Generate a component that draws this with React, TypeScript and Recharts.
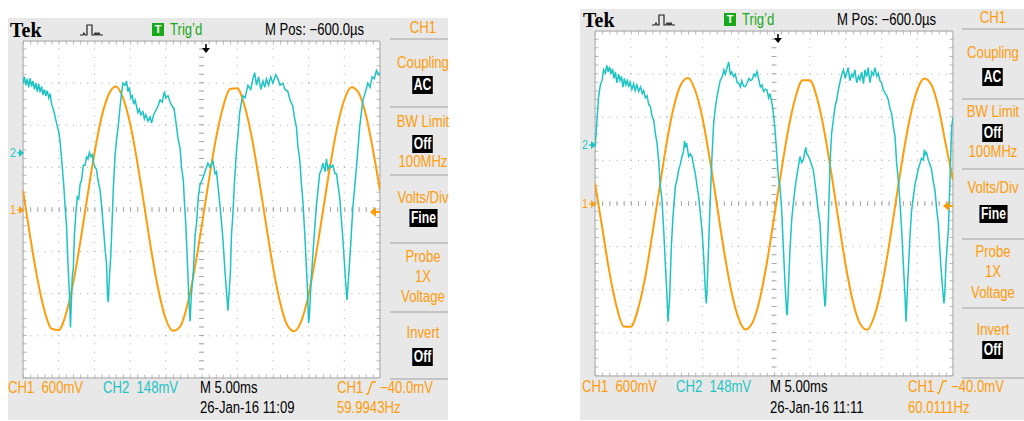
import React from "react";
import { LineChart, Line, XAxis, YAxis, ReferenceLine } from "recharts";

const ORANGE = "#ff9c0a";
const CYAN = "#1ec4c4";
const GREEN = "#17a917";
const FRAME = "#e8e8e8";
const GRID = "#a8a8a8";
const BORDER = "#b8b8b8";
const FONT = "'Liberation Sans', Arial, sans-serif";
const NARROW = 0.82;

// time in ms (5 ms/div, 10 div), amplitude in divisions
const gridTimes = [5, 10, 15, 20, 30, 35, 40, 45];
const gridDivs = [-3, -2, -1, 1, 2, 3];
const ch2Offset = 1.35; // CH2 ground marker, divisions above centre
const trigLevel = -40 / 600; // CH1 trigger level in divisions
const trigPos = 0.6; // ms right of centre

const ch1Times = [0, 1, 2, 3, 4, 5, 6, 7, 8, 9, 10, 11, 12, 13, 14, 15, 16, 17, 18, 19, 20, 21, 22, 23, 24, 25,
  26, 27, 28, 29, 30, 31, 32, 33, 34, 35, 36, 37, 38, 39, 40, 41, 42, 43, 44, 45, 46, 47, 48, 49, 50];

const leftCh1 = [0.45, -0.64, -1.63, -2.4, -2.83, -2.86, -2.49, -1.77, -0.8, 0.29, 1.33, 2.19, 2.73, 2.92, 2.65,
  2.04, 1.13, 0.07, -1.01, -1.94, -2.6, -2.88, -2.78, -2.28, -1.45, -0.42, 0.66, 1.66, 2.42, 2.86, 2.88, 2.48,
  1.75, 0.77, -0.31, -1.35, -2.2, -2.74, -2.89, -2.64, -2.02, -1.11, -0.05, 1.02, 1.95, 2.6, 2.9, 2.77, 2.26,
  1.43, 0.45];

const rightCh1 = [0.47, -0.55, -1.58, -2.38, -2.85, -2.86, -2.45, -1.72, -0.72, 0.35, 1.4, 2.24, 2.76, 2.91,
  2.62, 1.99, 1.06, 0.0, -1.08, -2.0, -2.64, -2.92, -2.76, -2.23, -1.38, -0.34, 0.73, 1.72, 2.46, 2.86, 2.86,
  2.45, 1.7, 0.71, -0.38, -1.42, -2.26, -2.78, -2.93, -2.62, -1.97, -1.04, 0.03, 1.09, 2.0, 2.63, 2.9, 2.75,
  2.21, 1.36, 0.55];

// [ms, div]
const leftCh2: [number, number][] = [
  [0, 3.0], [0.2, 3.15], [0.4, 2.95], [0.6, 3.1], [0.8, 2.9], [1.0, 3.12], [1.2, 2.92], [1.4, 3.05], [1.6, 2.85],
  [1.8, 3.0], [2.0, 2.8], [2.2, 2.98], [2.4, 2.78], [2.6, 2.92], [2.8, 2.72], [3.0, 2.85], [3.2, 2.7], [3.4, 2.82],
  [3.6, 2.65], [3.8, 2.75], [4.0, 2.5], [4.3, 2.35], [4.7, 2.05], [5.0, 1.85], [5.2, 1.6], [5.5, 1.0], [5.7, 0.6],
  [5.9, 0.05], [6.1, -0.4], [6.3, -1.3], [6.5, -2.0], [6.65, -2.8], [6.75, -2.3], [6.9, -1.6], [7.05, -1.4],
  [7.2, -0.6], [7.4, -0.1], [7.6, 0.3], [7.8, 0.25], [8.0, 0.6], [8.2, 0.7], [8.45, 1.05], [8.7, 1.05], [8.9, 1.25],
  [9.1, 1.2], [9.3, 1.35], [9.5, 1.25], [9.7, 1.3], [9.9, 1.1], [10.1, 1.0], [10.3, 0.95], [10.5, 0.7], [10.8, 0.45],
  [11.0, 0.1], [11.25, -0.4], [11.5, -0.95], [11.7, -1.3], [11.85, -2.1], [11.95, -2.2], [12.1, -1.6], [12.3, -1.1],
  [12.5, -0.2], [12.65, 0.5], [12.9, 1.3], [13.1, 1.65], [13.35, 2.0], [13.6, 2.45], [13.8, 2.75], [14.0, 3.0],
  [14.3, 2.95], [14.5, 3.05], [14.7, 2.8], [14.9, 2.9], [15.1, 2.65], [15.3, 2.7], [15.5, 2.5], [15.7, 2.6],
  [15.9, 2.45], [16.1, 2.3], [16.3, 2.38], [16.5, 2.25], [16.8, 2.32], [17.0, 2.15], [17.2, 2.25], [17.5, 2.1],
  [17.8, 2.2], [18.0, 2.05], [18.3, 2.25], [18.6, 2.35], [18.9, 2.45], [19.2, 2.6], [19.5, 2.55], [19.8, 2.8],
  [20.0, 2.65], [20.3, 2.7], [20.6, 2.55], [20.9, 2.45], [21.15, 2.4], [21.4, 2.1], [21.7, 1.7], [22.0, 1.45],
  [22.2, 1.0], [22.45, 0.7], [22.6, 0.2], [22.8, -0.35], [23.05, -1.35], [23.25, -2.2], [23.4, -2.65], [23.55, -2.1],
  [23.85, -1.5], [24.1, -0.6], [24.3, -0.35], [24.55, 0.3], [24.8, 0.6], [25.1, 0.7], [25.5, 0.9], [25.9, 1.1],
  [26.2, 1.0], [26.6, 1.15], [26.9, 0.85], [27.1, 0.9], [27.5, 0.25], [27.8, -0.3], [28.0, -0.7], [28.3, -1.5],
  [28.5, -1.95], [28.7, -2.4], [28.85, -2.0], [29.05, -1.5], [29.2, -0.6], [29.4, -0.1], [29.6, 0.6], [29.9, 1.4],
  [30.1, 1.75], [30.35, 2.3], [30.6, 2.55], [30.8, 2.7], [31.1, 2.65], [31.5, 2.95], [31.9, 2.85], [32.2, 3.1],
  [32.45, 3.25], [32.7, 2.95], [33.0, 3.15], [33.3, 2.85], [33.6, 3.05], [33.85, 2.9], [34.1, 3.1], [34.4, 2.95],
  [34.7, 3.15], [35.0, 3.0], [35.4, 3.2], [35.7, 3.1], [36.0, 2.95], [36.4, 3.0], [36.7, 2.85], [37.1, 2.8],
  [37.4, 2.6], [37.8, 2.45], [38.0, 2.2], [38.3, 1.95], [38.5, 1.5], [38.75, 1.2], [39.0, 0.6], [39.2, 0.2],
  [39.5, -0.7], [39.8, -1.75], [40.0, -2.7], [40.1, -2.55], [40.35, -1.7], [40.75, -0.7], [41.1, 0.1], [41.55, 0.85],
  [41.8, 0.95], [42.0, 1.1], [42.3, 0.9], [42.5, 1.2], [42.7, 0.95], [42.95, 1.05], [43.2, 1.0], [43.4, 1.05],
  [43.7, 0.85], [43.9, 0.85], [44.35, 0.3], [44.8, -0.7], [45.2, -1.75], [45.38, -2.15], [45.6, -1.6], [45.8, -1.1],
  [46.2, 0.05], [46.7, 1.0], [47.15, 1.95], [47.6, 2.6], [47.9, 2.75], [48.3, 3.0], [48.6, 2.9], [48.9, 3.15],
  [49.2, 3.1], [49.5, 3.3], [49.8, 3.2], [50.0, 3.25],
];

const rightCh2: [number, number][] = [
  [0.0, 1.3], [0.2, 1.75], [0.5, 2.48], [0.75, 2.75], [1.0, 2.86], [1.2, 3.1], [1.44, 3.02], [1.65, 3.2], [1.85, 3.05],
  [2.05, 3.17], [2.25, 3.0], [2.45, 3.12], [2.65, 2.9], [2.85, 3.05], [3.05, 2.8], [3.3, 3.0], [3.5, 2.85], [3.7, 2.95],
  [3.9, 2.7], [4.1, 2.9], [4.3, 2.75], [4.5, 2.85], [4.7, 2.7], [4.9, 2.82], [5.15, 2.65], [5.4, 2.78], [5.6, 2.62],
  [5.85, 2.75], [6.1, 2.6], [6.35, 2.7], [6.6, 2.55], [6.8, 2.62], [7.03, 2.45], [7.26, 2.5], [7.5, 2.3], [7.73, 2.25],
  [8.0, 2.0], [8.19, 1.94], [8.45, 1.6], [8.66, 1.4], [8.89, 1.0], [9.12, 0.39], [9.36, 0.08], [9.59, -0.61],
  [9.82, -1.39], [10.06, -2.16], [10.2, -2.74], [10.3, -2.5], [10.43, -2.16], [10.66, -1.0], [10.89, -0.31],
  [11.22, 0.39], [11.45, 0.55], [11.69, 0.78], [11.9, 0.9], [12.15, 1.09], [12.35, 1.2], [12.5, 1.45], [12.62, 1.3],
  [12.8, 1.4], [13.08, 1.09], [13.3, 1.15], [13.55, 1.09], [13.8, 0.85], [14.01, 0.7], [14.25, 0.4], [14.48, 0.16],
  [14.7, -0.2], [14.94, -0.61], [15.18, -1.23], [15.41, -2.01], [15.55, -2.32], [15.65, -2.0], [15.78, -1.39],
  [16.11, 0.16], [16.34, 1.09], [16.57, 1.86], [16.8, 2.2], [17.04, 2.48], [17.3, 2.7], [17.5, 2.86], [17.8, 2.95],
  [18.0, 3.1], [18.2, 3.0], [18.45, 3.15], [18.67, 3.28], [18.9, 3.0], [19.1, 3.05], [19.37, 2.94], [19.6, 3.0],
  [19.85, 2.8], [20.07, 2.79], [20.3, 2.7], [20.5, 2.85], [20.75, 2.72], [21.0, 2.71], [21.25, 2.8], [21.5, 2.9],
  [21.7, 2.85], [21.93, 2.87], [22.2, 3.0], [22.4, 2.95], [22.63, 3.06], [22.9, 2.85], [23.1, 2.7], [23.32, 2.75],
  [23.55, 2.6], [23.8, 2.65], [24.02, 2.63], [24.25, 2.45], [24.44, 2.55], [24.72, 2.32], [24.91, 2.1], [25.14, 1.71],
  [25.37, 1.2], [25.6, 0.62], [25.84, 0.39], [26.07, -0.15], [26.3, -1.0], [26.54, -1.85], [26.77, -2.55],
  [26.85, -2.59], [27.0, -2.01], [27.23, -1.08], [27.47, -0.38], [27.7, 0.0], [27.9, 0.3], [28.16, 0.62], [28.4, 0.85],
  [28.63, 1.09], [28.85, 0.95], [29.1, 1.01], [29.3, 1.2], [29.45, 1.3], [29.56, 1.16], [29.8, 1.1], [30.03, 1.01],
  [30.25, 0.9], [30.49, 0.78], [30.75, 0.45], [30.96, 0.16], [31.2, -0.2], [31.42, -0.46], [31.66, -1.23],
  [31.89, -1.85], [32.12, -2.39], [32.2, -2.3], [32.35, -1.54], [32.59, -0.46], [32.82, 0.93], [33.05, 1.63],
  [33.3, 1.95], [33.52, 2.25], [33.75, 2.4], [33.98, 2.63], [34.2, 2.8], [34.45, 2.98], [34.7, 3.1], [34.95, 2.9],
  [35.15, 3.02], [35.35, 3.15], [35.6, 2.85], [35.85, 3.0], [36.08, 2.94], [36.3, 3.1], [36.55, 2.8], [36.8, 2.95],
  [37.01, 2.87], [37.25, 3.05], [37.5, 2.78], [37.7, 3.1], [37.94, 2.94], [38.15, 3.15], [38.4, 2.8], [38.65, 3.05],
  [38.87, 2.98], [39.1, 3.15], [39.35, 2.95], [39.57, 3.02], [39.8, 2.85], [40.04, 2.79], [40.25, 2.65], [40.5, 2.56],
  [40.75, 2.5], [40.97, 2.4], [41.2, 2.2], [41.43, 2.09], [41.65, 1.8], [41.9, 1.55], [42.13, 0.93], [42.36, 0.55],
  [42.6, 0.0], [42.83, -0.61], [43.06, -1.39], [43.3, -2.16], [43.43, -2.74], [43.5, -2.5], [43.67, -1.85],
  [43.99, -0.77], [44.2, -0.2], [44.46, 0.16], [44.7, 0.45], [44.92, 0.62], [45.15, 0.8], [45.39, 0.93], [45.6, 1.05],
  [45.86, 1.01], [46.0, 1.25], [46.09, 1.13], [46.3, 1.18], [46.55, 1.01], [46.8, 0.9], [47.02, 0.78], [47.25, 0.5],
  [47.48, 0.31], [47.7, -0.1], [47.95, -0.46], [48.28, -1.39], [48.56, -2.01], [48.74, -2.32], [48.85, -2.1],
  [49.02, -1.39], [49.35, -0.61], [49.58, 0.55], [49.81, 1.78], [50.0, 2.0],
];

const menuLabels = ["CH1", "Coupling", "AC", "BW Limit", "Off", "100MHz", "Volts/Div", "Fine", "Probe", "1X",
  "Voltage", "Invert", "Off"];
const boxedLabels = [2, 4, 7, 12];

type Layout = {
  frame: number[]; plot: number[]; headY: number; tek: number; pulse: number; tbox: number; trig: number;
  mpos: number; menuLeft: number; menuCx: number; menuY: number[]; sepY: number[]; footY: number[]; footX: number[];
};

const leftLayout: Layout = {
  frame: [8, 18, 440, 402], plot: [23, 41, 357, 337], headY: 30, tek: 10, pulse: 80, tbox: 152, trig: 170,
  mpos: 265, menuLeft: 390, menuCx: 423,
  menuY: [28, 63, 85, 122, 144, 162, 198, 218, 257, 277, 297, 333, 357],
  sepY: [39, 107, 175, 243, 312, 379], footY: [388, 408], footX: [8, 103, 200, 337],
};
const rightLayout: Layout = {
  frame: [580, 9, 444, 411], plot: [595, 31, 358, 345], headY: 20, tek: 583, pulse: 652, tbox: 724, trig: 742,
  mpos: 837, menuLeft: 962, menuCx: 993,
  menuY: [18, 53, 77, 112, 133, 152, 188, 214, 252, 272, 293, 330, 350],
  sepY: [29, 99, 169, 239, 308, 378], footY: [387, 408], footX: [582, 676, 770, 908],
};

function Txt({ x, y, color = "#000", size = 16, center = false, children }: any) {
  const base: React.CSSProperties = {
    position: "absolute", top: y - 10, height: 20, lineHeight: "20px", fontSize: size, color,
    fontFamily: FONT, whiteSpace: "pre", transform: `scaleX(${NARROW})`,
  };
  if (center) return <div style={{ ...base, left: x - 60, width: 120, textAlign: "center", transformOrigin: "50% 50%" }}>{children}</div>;
  return <div style={{ ...base, left: x, transformOrigin: "0 50%" }}>{children}</div>;
}

function Boxed({ x, y, children }: any) {
  return (
    <div style={{ position: "absolute", left: x - 60, width: 120, top: y - 9, textAlign: "center" }}>
      <span style={{ background: "#000", color: "#fff", fontFamily: FONT, fontSize: 16, fontWeight: "bold",
        lineHeight: "18px", padding: "0 2px", display: "inline-block", height: 18,
        transform: `scaleX(${NARROW - 0.06})` }}>{children}</span>
    </div>
  );
}

function Panel({ lay, ch1, ch2, date, freq }: { lay: Layout; ch1: number[]; ch2: [number, number][]; date: string; freq: string }) {
  const [fx, fy, fw, fh] = lay.frame;
  const [px, py, pw, ph] = lay.plot;
  const divX = pw / 10;
  const divY = ph / 8;
  const cy = py + ph / 2;
  const ch1Data = ch1Times.map((t, i) => ({ t, v: ch1[i] }));
  const ch2Data = ch2.map(([t, v]) => ({ t, v }));
  const dotsH = `1 ${divX / 5 - 1}`;
  const dotsV = `1 ${divY / 5 - 1}`;
  const trigX = px + pw / 2 + (trigPos / 5) * divX;
  const trigY = cy - trigLevel * divY;
  const ch2Y = cy - ch2Offset * divY;
  return (
    <>
      <div style={{ position: "absolute", left: fx, top: fy, width: fw, height: fh, background: FRAME }} />
      <div style={{ position: "absolute", left: lay.tek, top: lay.headY - 12, fontFamily: "'Liberation Serif', serif",
        fontWeight: "bold", fontSize: 20, lineHeight: "24px" }}>Tek</div>
      <svg style={{ position: "absolute", left: lay.pulse, top: lay.headY - 7 }} width={27} height={14}>
        <path d="M0 12 h3 l1 -2 l1 2 h2 V2 h5 V12 h2 l1 -2 l1 2 l1 -2 l1 2 l1 -2 l1 2 h3" fill="none" stroke="#222" strokeWidth={1.2} />
      </svg>
      <div style={{ position: "absolute", left: lay.tbox, top: lay.headY - 7, width: 12, height: 13, background: GREEN,
        color: "#fff", fontFamily: FONT, fontSize: 11, lineHeight: "13px", textAlign: "center", fontWeight: "bold" }}>T</div>
      <Txt x={lay.trig} y={lay.headY} color={GREEN}>Trig’d</Txt>
      <Txt x={lay.mpos} y={lay.headY}>M Pos: −600.0µs</Txt>

      {menuLabels.map((m, i) =>
        boxedLabels.includes(i)
          ? <Boxed key={i} x={lay.menuCx} y={lay.menuY[i]}>{m}</Boxed>
          : <Txt key={i} x={lay.menuCx} y={lay.menuY[i]} color={ORANGE} center>{m}</Txt>
      )}
      {lay.sepY.map((s, i) => (
        <div key={i} style={{ position: "absolute", left: lay.menuLeft, top: s - 1, width: fx + fw - lay.menuLeft,
          height: 2, background: "#c4c4c4" }} />
      ))}

      <div style={{ position: "absolute", left: px - 1, top: py - 1, background: "#fff" }}>
        <LineChart width={pw + 2} height={ph + 2} margin={{ top: 1, right: 1, bottom: 1, left: 1 }} data={ch1Data}>
          <XAxis dataKey="t" type="number" domain={[0, 50]} hide allowDataOverflow />
          <YAxis type="number" domain={[-4, 4]} hide allowDataOverflow />
          {gridTimes.map((t) => (
            <ReferenceLine key={"gx" + t} x={t} stroke={GRID} strokeDasharray={dotsV} />
          ))}
          {gridDivs.map((d) => (
            <ReferenceLine key={"gy" + d} y={d} stroke={GRID} strokeDasharray={dotsH} />
          ))}
          <ReferenceLine x={25} stroke={GRID} strokeDasharray={dotsV} />
          <ReferenceLine x={25} stroke={GRID} strokeWidth={5} strokeDasharray={dotsV} />
          <ReferenceLine y={0} stroke={GRID} strokeDasharray={dotsH} />
          <ReferenceLine y={0} stroke={GRID} strokeWidth={5} strokeDasharray={dotsH} />
          <ReferenceLine y={4} stroke={BORDER} strokeWidth={1.5} />
          <ReferenceLine y={-4} stroke={BORDER} strokeWidth={1.5} />
          <ReferenceLine x={0} stroke={BORDER} strokeWidth={1.5} />
          <ReferenceLine x={50} stroke={BORDER} strokeWidth={1.5} />
          <ReferenceLine y={4} stroke={BORDER} strokeWidth={7} strokeDasharray={dotsH} />
          <ReferenceLine y={-4} stroke={BORDER} strokeWidth={7} strokeDasharray={dotsH} />
          <ReferenceLine x={0} stroke={BORDER} strokeWidth={7} strokeDasharray={dotsV} />
          <ReferenceLine x={50} stroke={BORDER} strokeWidth={7} strokeDasharray={dotsV} />
          <Line dataKey="v" type="monotone" stroke={ORANGE} strokeWidth={2} dot={false} isAnimationActive={false} />
          <Line data={ch2Data} dataKey="v" type="linear" stroke={CYAN} strokeWidth={1.5} dot={false} isAnimationActive={false} />
        </LineChart>
      </div>

      <svg style={{ position: "absolute", left: trigX - 5, top: py + 3 }} width={10} height={10}>
        <path d="M5 0 V6" stroke="#000" strokeWidth={1.6} />
        <path d="M1 4 H9 L5 9 Z" fill="#000" />
      </svg>
      <Txt x={fx + 2} y={ch2Y} color={CYAN} size={13}>2</Txt>
      <svg style={{ position: "absolute", left: fx + 9, top: ch2Y - 4 }} width={7} height={8}>
        <path d="M0 4 H3" stroke={CYAN} strokeWidth={1.2} /><path d="M2 0 L7 4 L2 8 Z" fill={CYAN} />
      </svg>
      <Txt x={fx + 2} y={cy} color={ORANGE} size={13}>1</Txt>
      <svg style={{ position: "absolute", left: fx + 9, top: cy - 4 }} width={7} height={8}>
        <path d="M0 4 H3" stroke={ORANGE} strokeWidth={1.2} /><path d="M2 0 L7 4 L2 8 Z" fill={ORANGE} />
      </svg>
      <svg style={{ position: "absolute", left: px + pw - 10, top: trigY - 5 }} width={10} height={10}>
        <path d="M0 5 L6 0 L6 10 Z" fill={ORANGE} /><path d="M5 5 H10" stroke={ORANGE} strokeWidth={2} />
      </svg>

      <Txt x={lay.footX[0]} y={lay.footY[0]} color={ORANGE}>{"CH1  600mV"}</Txt>
      <Txt x={lay.footX[1]} y={lay.footY[0]} color={CYAN}>{"CH2  148mV"}</Txt>
      <Txt x={lay.footX[2]} y={lay.footY[0]}>M 5.00ms</Txt>
      <Txt x={lay.footX[2]} y={lay.footY[1]}>{date}</Txt>
      <Txt x={lay.footX[3]} y={lay.footY[0]} color={ORANGE}>CH1</Txt>
      <svg style={{ position: "absolute", left: lay.footX[3] + 29, top: lay.footY[0] - 7 }} width={10} height={14}>
        <path d="M0 13 H2 L6 1 H10" fill="none" stroke={ORANGE} strokeWidth={1.3} />
      </svg>
      <Txt x={lay.footX[3] + 43} y={lay.footY[0]} color={ORANGE}>−40.0mV</Txt>
      <Txt x={lay.footX[3]} y={lay.footY[1]} color={ORANGE}>{freq}</Txt>
    </>
  );
}

export default function App() {
  return (
    <div style={{ position: "absolute", left: 0, top: 0, width: 1024, height: 421, background: "#fff", overflow: "hidden" }}>
      <Panel lay={leftLayout} ch1={leftCh1} ch2={leftCh2} date="26-Jan-16 11:09" freq="59.9943Hz" />
      <Panel lay={rightLayout} ch1={rightCh1} ch2={rightCh2} date="26-Jan-16 11:11" freq="60.0111Hz" />
    </div>
  );
}
